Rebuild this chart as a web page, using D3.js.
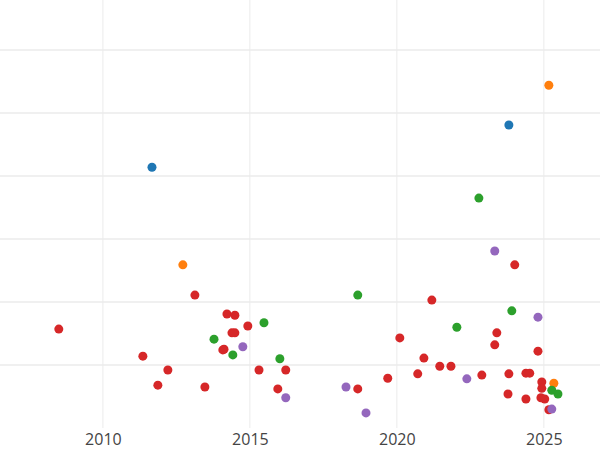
<!DOCTYPE html>
<html><head><meta charset="utf-8">
<script src="https://cdn.jsdelivr.net/npm/d3@7"></script>
<style>body{margin:0;background:#fff}</style>
</head><body><div id="chart"></div>
<script>
// values (y in grid units)
var blueYears = [2011.67, 2023.81];
var blueVals = [4.14, 4.81];
var orangeYears = [2025.17, 2012.72, 2025.34];
var orangeVals = [5.44, 2.59, 0.71];
var greenYears = [2022.79, 2018.67, 2015.48, 2013.78, 2014.42, 2016.02, 2022.04, 2023.91, 2025.27, 2025.48];
var greenVals = [3.65, 2.11, 1.67, 1.41, 1.16, 1.10, 1.60, 1.86, 0.60, 0.54];
var purpleYears = [2023.33, 2024.80, 2014.76, 2018.27, 2016.22, 2018.95, 2022.38, 2025.27];
var purpleVals = [2.81, 1.76, 1.29, 0.65, 0.48, 0.24, 0.78, 0.30];
var redYears = [2008.50, 2013.13, 2011.36, 2012.21, 2011.87, 2013.47, 2014.22, 2014.49, 2014.39, 2014.49, 2014.93, 2014.12, 2014.08, 2015.31, 2016.22, 2015.95, 2018.67, 2019.69, 2020.10, 2021.19, 2020.92, 2020.71, 2021.46, 2021.84, 2022.89, 2023.40, 2023.33, 2024.01, 2024.80, 2023.81, 2024.39, 2024.52, 2023.78, 2024.39, 2024.93, 2024.93, 2024.90, 2025.03, 2025.17];
var redVals = [1.57, 2.11, 1.14, 0.92, 0.68, 0.65, 1.81, 1.79, 1.51, 1.51, 1.62, 1.25, 1.24, 0.92, 0.92, 0.62, 0.62, 0.79, 1.43, 2.03, 1.11, 0.86, 0.98, 0.98, 0.84, 1.51, 1.32, 2.59, 1.22, 0.86, 0.87, 0.87, 0.54, 0.46, 0.73, 0.63, 0.48, 0.46, 0.29];
var xTicks = [2010, 2015, 2020, 2025];
var yGrid = [1, 2, 3, 4, 5, 6];

var width = 600, height = 450;
var svg = d3.select("#chart").append("svg").attr("width", width).attr("height", height);
var x = d3.scaleLinear().domain([2006.5, 2026.91]).range([0, 600]);
var y = d3.scaleLinear().domain([0, 6.794]).range([428, 0]);

var series = [
  {c: "#d62728", xs: redYears, ys: redVals},
  {c: "#1f77b4", xs: blueYears, ys: blueVals},
  {c: "#ff7f0e", xs: orangeYears, ys: orangeVals},
  {c: "#2ca02c", xs: greenYears, ys: greenVals},
  {c: "#9467bd", xs: purpleYears, ys: purpleVals}
];

svg.append("g").selectAll("line").data(yGrid).enter().append("line")
  .attr("x1", 0).attr("x2", width).attr("y1", d => y(d)).attr("y2", d => y(d))
  .attr("stroke", "#ebebeb").attr("stroke-width", 1.5);
svg.append("g").selectAll("line").data(xTicks).enter().append("line")
  .attr("x1", d => x(d)).attr("x2", d => x(d)).attr("y1", 0).attr("y2", 428)
  .attr("stroke", "#ebebeb").attr("stroke-width", 1);

var xAxis = d3.axisBottom(x).tickValues(xTicks).tickFormat(d3.format("d")).tickSize(0).tickPadding(6);
var gx = svg.append("g").attr("transform", "translate(0,428)").call(xAxis);
gx.select(".domain").remove();
gx.selectAll("text").attr("font-family", "Open Sans, sans-serif").attr("font-size", 16).attr("fill", "#444");

series.forEach(s => {
  svg.append("g").selectAll("circle").data(s.xs.map((v, i) => [v, s.ys[i]])).enter().append("circle")
    .attr("cx", d => x(d[0])).attr("cy", d => y(d[1])).attr("r", 4.5).attr("fill", s.c);
});
</script></body></html>
